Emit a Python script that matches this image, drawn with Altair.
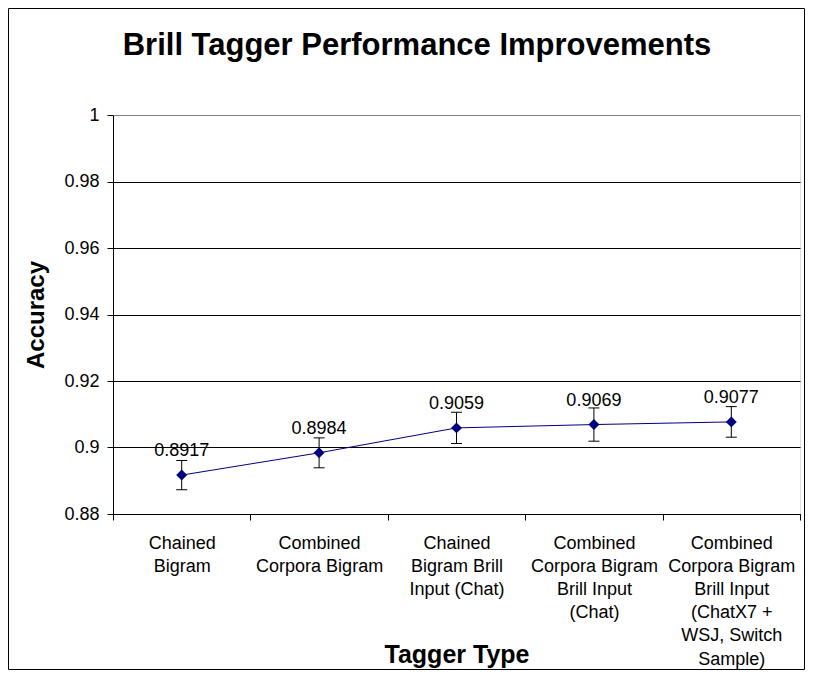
import altair as alt
import pandas as pd

# ---- data ----
categories = [
    "Chained\nBigram",
    "Combined\nCorpora Bigram",
    "Chained\nBigram Brill\nInput (Chat)",
    "Combined\nCorpora Bigram\nBrill Input\n(Chat)",
    "Combined\nCorpora Bigram\nBrill Input\n(ChatX7 +\nWSJ, Switch\nSample)",
]
accuracy = [0.8917, 0.8984, 0.9059, 0.9069, 0.9077]
errors = [0.0044, 0.0045, 0.0047, 0.0050, 0.0046]
y_ticks = [0.88, 0.90, 0.92, 0.94, 0.96, 0.98, 1.00]

title_text = "Brill Tagger Performance Improvements"
x_title = "Tagger Type"
y_title = "Accuracy"

df = pd.DataFrame({
    "cat": categories,
    "acc": accuracy,
    "lo": [a - e for a, e in zip(accuracy, errors)],
    "hi": [a + e for a, e in zip(accuracy, errors)],
})

FONT = "Liberation Sans"
NAVY = "#000080"

W, H = 687, 399
PAD = {"left": 105, "top": 107, "right": 5, "bottom": 156}

x_enc = alt.X(
    "cat:N",
    sort=categories,
    scale=alt.Scale(type="band", paddingInner=0, paddingOuter=0),
    axis=alt.Axis(
        title=x_title,
        labelAngle=0,
        labelExpr="split(datum.label, '\\n')",
        labelFontSize=18,
        labelLineHeight=23.2,
        labelColor="black",
        labelFont=FONT,
        labelPadding=14,
        labelLimit=0,
        tickBand="extent",
        tickSize=6,
        tickColor="black",
        domainColor="black",
        grid=False,
        titleFont=FONT,
        titleFontSize=25,
        titleFontWeight="bold",
        titleColor="black",
        titleBaseline="alphabetic",
        titleY=148,
    ),
)

y_scale = alt.Scale(domain=[0.88, 1.0], nice=False, zero=False)
y_axis = alt.Axis(
    title=y_title,
    values=y_ticks,
    format="~g",
    labelFontSize=18,
    labelColor="black",
    labelFont=FONT,
    labelPadding=8,
    tickSize=6,
    tickColor="black",
    domainColor="black",
    grid=True,
    gridColor={"condition": {"test": "datum.value >= 0.999", "value": "#808080"}, "value": "#000000"},
    gridOpacity=1,
    titleFont=FONT,
    titleFontSize=24,
    titleFontWeight="bold",
    titleColor="black",
    titleAngle=-90,
    titleBaseline="alphabetic",
    titleAlign="center",
    titleX=-70,
)

base = alt.Chart(df)

line = base.mark_line(color=NAVY, strokeWidth=1).encode(
    x=x_enc, y=alt.Y("acc:Q", scale=y_scale, axis=y_axis)
)
err = base.mark_rule(color="black", strokeWidth=1).encode(
    x=alt.X("cat:N", sort=categories), y="lo:Q", y2="hi:Q"
)
cap_hi = base.mark_tick(color="black", thickness=1, size=11, orient="horizontal", opacity=1).encode(
    x=alt.X("cat:N", sort=categories), y="hi:Q"
)
cap_lo = base.mark_tick(color="black", thickness=1, size=11, orient="horizontal", opacity=1).encode(
    x=alt.X("cat:N", sort=categories), y="lo:Q"
)
pts = base.mark_point(shape="diamond", filled=True, size=120, color=NAVY, opacity=1).encode(
    x=alt.X("cat:N", sort=categories), y="acc:Q"
)
labels = base.mark_text(font=FONT, fontSize=18, color="black", baseline="alphabetic", dy=-19).encode(
    x=alt.X("cat:N", sort=categories), y="acc:Q", text=alt.Text("acc:Q", format=".4f")
)

one = alt.Data(values=[{"k": 1}])
title_mark = alt.Chart(one).mark_text(
    font=FONT, fontSize=31, fontWeight="bold", color="black", align="center", baseline="alphabetic"
).encode(x=alt.value(304), y=alt.value(-60), text=alt.value(title_text))

border = alt.Chart(one).mark_rect(fill=None, stroke="black", strokeWidth=1).encode(
    x=alt.value(-PAD["left"] + 0.5),
    x2=alt.value(W + PAD["right"] - 0.5),
    y=alt.value(-PAD["top"] + 0.5),
    y2=alt.value(H + PAD["bottom"] - 0.5),
)

chart = alt.layer(line, err, cap_hi, cap_lo, pts, labels, title_mark, border).properties(
    width=W,
    height=H,
    autosize=alt.AutoSizeParams(type="none"),
    padding=PAD,
    background="white",
).configure_view(stroke="#808080", strokeWidth=1).configure(font=FONT)

chart.save("out.html", embed_options={"renderer": "svg", "actions": False})
